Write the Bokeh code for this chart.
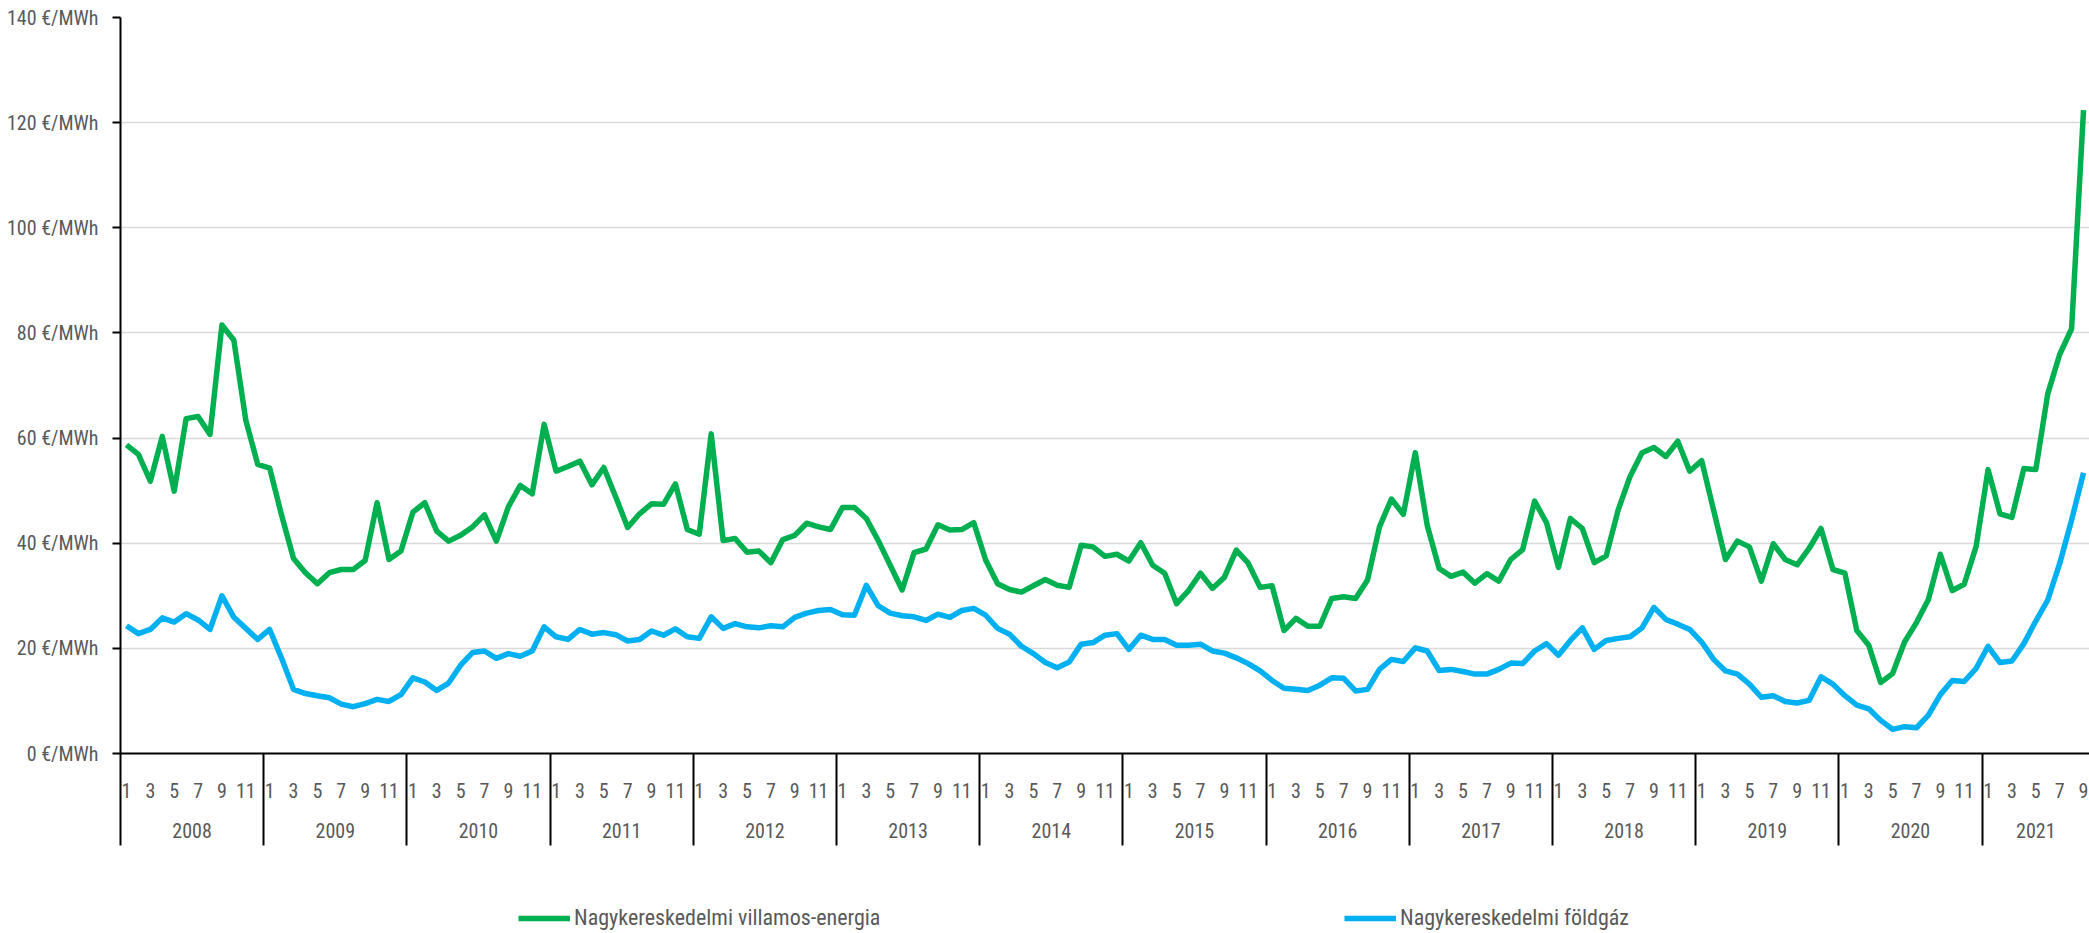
import numpy as np
from bokeh.plotting import figure
from bokeh.layouts import column
from bokeh.models import FixedTicker, LinearAxis, Range1d, Legend, LegendItem
from bokeh.embed import file_html
from bokeh.resources import INLINE

# ---------------- data ----------------
series_names = ["Nagykereskedelmi villamos-energia", "Nagykereskedelmi földgáz"]
years = ["2008", "2009", "2010", "2011", "2012", "2013", "2014",
         "2015", "2016", "2017", "2018", "2019", "2020", "2021"]
month_labels = ["1", "3", "5", "7", "9", "11"]
y_ticks = [0, 20, 40, 60, 80, 100, 120, 140]
y_unit = "€/MWh"

# monthly values, Jan 2008 - Sep 2021 (€/MWh)
electricity = [
    58.7, 56.9, 51.8, 60.3, 49.9, 63.7, 64.1, 60.7, 81.5, 78.6, 63.4, 55.0,   # 2008
    54.3, 45.3, 37.1, 34.4, 32.3, 34.4, 35.0, 35.0, 36.7, 47.7, 36.9, 38.5,   # 2009
    45.9, 47.7, 42.3, 40.4, 41.5, 43.1, 45.4, 40.4, 46.9, 51.0, 49.4, 62.6,   # 2010
    53.7, 54.6, 55.6, 51.1, 54.4, 48.8, 43.0, 45.6, 47.5, 47.4, 51.3, 42.6,   # 2011
    41.7, 60.8, 40.5, 40.9, 38.3, 38.5, 36.3, 40.7, 41.5, 43.8, 43.1, 42.6,   # 2012
    46.8, 46.8, 44.7, 40.5, 35.8, 31.1, 38.2, 38.9, 43.5, 42.5, 42.6, 43.9,   # 2013
    36.8, 32.3, 31.2, 30.7, 31.9, 33.1, 32.0, 31.6, 39.6, 39.3, 37.5, 37.9,   # 2014
    36.6, 40.1, 35.8, 34.3, 28.5, 31.0, 34.3, 31.4, 33.5, 38.7, 36.2, 31.6,   # 2015
    31.9, 23.4, 25.7, 24.2, 24.2, 29.5, 29.8, 29.5, 33.0, 43.1, 48.4, 45.5,   # 2016
    57.2, 43.4, 35.2, 33.7, 34.5, 32.4, 34.2, 32.8, 36.9, 38.8, 48.0, 43.9,   # 2017
    35.4, 44.7, 42.8, 36.3, 37.6, 46.3, 52.7, 57.2, 58.2, 56.5, 59.4, 53.7,   # 2018
    55.7, 46.3, 36.9, 40.4, 39.3, 32.8, 39.9, 36.9, 35.9, 39.0, 42.8, 35.0,   # 2019
    34.3, 23.4, 20.6, 13.5, 15.2, 21.2, 24.9, 29.3, 37.9, 31.0, 32.2, 39.4,   # 2020
    54.0, 45.6, 44.9, 54.2, 54.0, 68.4, 75.9, 80.8, 122.4,                    # 2021
]
gas = [
    24.3, 22.8, 23.6, 25.8, 25.0, 26.6, 25.4, 23.6, 30.0, 25.9, 23.8, 21.7,   # 2008
    23.6, 18.1, 12.2, 11.4, 11.0, 10.6, 9.4, 8.9, 9.5, 10.3, 9.9, 11.2,       # 2009
    14.4, 13.6, 12.0, 13.4, 16.8, 19.2, 19.5, 18.1, 19.0, 18.5, 19.5, 24.1,   # 2010
    22.2, 21.7, 23.6, 22.7, 23.0, 22.6, 21.4, 21.7, 23.3, 22.5, 23.7, 22.2,   # 2011
    21.9, 26.0, 23.8, 24.7, 24.1, 23.9, 24.3, 24.1, 25.9, 26.7, 27.2, 27.4,   # 2012
    26.4, 26.3, 32.0, 28.1, 26.7, 26.2, 26.0, 25.3, 26.5, 25.9, 27.2, 27.6,   # 2013
    26.3, 23.8, 22.7, 20.4, 19.0, 17.3, 16.3, 17.4, 20.8, 21.1, 22.5, 22.8,   # 2014
    19.8, 22.5, 21.7, 21.7, 20.6, 20.6, 20.8, 19.5, 19.1, 18.2, 17.1, 15.7,   # 2015
    13.9, 12.4, 12.2, 12.0, 13.0, 14.4, 14.3, 11.9, 12.2, 16.0, 17.9, 17.5,   # 2016
    20.1, 19.5, 15.8, 16.0, 15.6, 15.1, 15.1, 16.0, 17.2, 17.1, 19.5, 20.9,   # 2017
    18.7, 21.5, 23.9, 19.8, 21.5, 21.9, 22.2, 23.9, 27.8, 25.5, 24.6, 23.6,   # 2018
    21.2, 17.9, 15.7, 15.1, 13.2, 10.7, 11.0, 9.9, 9.6, 10.1, 14.6, 13.2,     # 2019
    11.0, 9.2, 8.5, 6.3, 4.6, 5.1, 4.9, 7.3, 11.2, 13.9, 13.7, 16.2,          # 2020
    20.4, 17.3, 17.6, 20.9, 25.2, 29.2, 36.1, 44.4, 53.4,                     # 2021
]

# ---------------- style ----------------
GREEN = "#00B050"
BLUE = "#00B0F0"
TEXT = "#595959"
FONT = "Roboto Condensed"
FS = "20px"
LW = 5.5

n = len(electricity)
x = np.arange(n)

# tick positions derived from the month index
month_ticks = [i for i in range(n) if i % 12 in (0, 2, 4, 6, 8, 10)]
month_overrides = {i: month_labels[(i % 12) // 2] for i in month_ticks}
year_bounds = [12 * k - 0.5 for k in range(len(years))]
year_centers = [(12 * k + min(12 * k + 11, n - 1)) / 2 for k in range(len(years))]
year_overrides = {c: years[k] for k, c in enumerate(year_centers)}

p = figure(width=2089, height=890, output_backend="svg", toolbar_location=None,
           x_range=Range1d(-0.5, n - 0.5), y_range=Range1d(0, 140),
           min_border_left=120, min_border_top=17, min_border_right=0,
           min_border_bottom=137)
p.outline_line_color = None
p.background_fill_color = "white"
p.border_fill_color = "white"

# grid
p.xgrid.visible = False
p.ygrid.ticker = FixedTicker(ticks=y_ticks)
p.ygrid.grid_line_color = "#d9d9d9"
p.ygrid.grid_line_width = 1.5

# y axis
ya = p.yaxis[0]
ya.ticker = FixedTicker(ticks=y_ticks)
ya.major_label_overrides = {v: f"{v} {y_unit}" for v in y_ticks}
ya.axis_line_color = "black"
ya.axis_line_width = 2
ya.major_tick_line_color = "black"
ya.major_tick_line_width = 2
ya.major_tick_out = 8
ya.major_tick_in = 0
ya.minor_tick_line_color = None
ya.major_label_standoff = 14
ya.major_label_text_font = FONT
ya.major_label_text_font_size = FS
ya.major_label_text_color = TEXT

# x axis 1: months + year separators (minor ticks)
xa = p.xaxis[0]
xa.ticker = FixedTicker(ticks=month_ticks, minor_ticks=year_bounds)
xa.major_label_overrides = month_overrides
xa.axis_line_color = "black"
xa.axis_line_width = 2
xa.major_tick_line_color = None
xa.major_tick_out = 0
xa.major_tick_in = 0
xa.minor_tick_line_color = "black"
xa.minor_tick_line_width = 2
xa.minor_tick_out = 92
xa.minor_tick_in = 0
xa.major_label_standoff = -63
xa.major_label_text_font = FONT
xa.major_label_text_font_size = FS
xa.major_label_text_color = TEXT

# x axis 2: years
xa2 = LinearAxis(ticker=FixedTicker(ticks=year_centers),
                 major_label_overrides=year_overrides,
                 axis_line_color=None, major_tick_line_color=None,
                 minor_tick_line_color=None, major_tick_out=0, major_tick_in=0,
                 major_label_standoff=22, major_label_text_font=FONT,
                 major_label_text_font_size=FS, major_label_text_color=TEXT)
p.add_layout(xa2, "below")

# lines
p.line(x, gas, line_color=BLUE, line_width=LW, line_join="round")
p.line(x, electricity, line_color=GREEN, line_width=LW, line_join="round")

# legend strip below the chart (series drawn out of view, used as legend keys)
lg = figure(width=2089, height=43, output_backend="svg", toolbar_location=None,
            x_range=Range1d(0, 2089), y_range=Range1d(-1000, -957),
            x_axis_location=None, y_axis_location=None,
            min_border_left=0, min_border_right=0, min_border_top=0,
            min_border_bottom=0)
lg.outline_line_color = None
lg.xgrid.visible = False
lg.ygrid.visible = False
k_el = lg.line(x, electricity, line_color=GREEN, line_width=LW)
k_gas = lg.line(x, gas, line_color=BLUE, line_width=LW)
legend = Legend(items=[LegendItem(label=series_names[0], renderers=[k_el]),
                       LegendItem(label=series_names[1], renderers=[k_gas])],
                orientation="horizontal", location=(398, 3),
                spacing=454, glyph_width=52, glyph_height=20, label_standoff=4,
                label_width=316, padding=0, margin=0,
                border_line_color=None, background_fill_alpha=0,
                label_text_font=FONT, label_text_font_size="22px",
                label_text_color=TEXT)
lg.add_layout(legend, "center")

layout = column(p, lg, spacing=0)
open("out.html", "w").write(file_html(layout, INLINE))
